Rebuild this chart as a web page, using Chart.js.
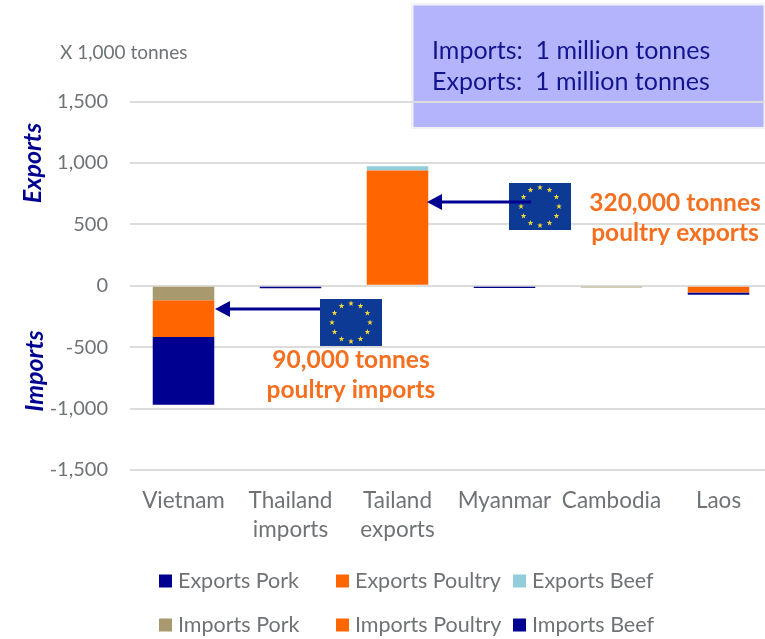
<!DOCTYPE html>
<html><head><meta charset="utf-8">
<style>html,body{margin:0;padding:0;background:#fff;width:765px;height:639px;overflow:hidden}canvas{display:block}</style>
<script src="https://cdn.jsdelivr.net/npm/chart.js@4"></script>
</head><body><canvas id="c" width="772" height="639" style="width:772px;height:639px"></canvas>
<script>
const categories = ["Vietnam", ["Thailand","imports"], ["Tailand","exports"], "Myanmar", "Cambodia", "Laos"];
const exportsPork    = [0, 0, 0, 0, 0, 0];
const exportsPoultry = [0, 0, 938, 0, 0, 0];
const exportsBeef    = [0, 0, 34, 0, 0, 0];
const importsPork    = [-118, 0, 0, 0, -14, 0];
const importsPoultry = [-300, 0, 0, 0, 0, -55];
const importsBeef    = [-550, -20, 0, -18, 0, -18];
const yTicks = [1500, 1000, 500, 0, -500, -1000, -1500];

const NAVY = "#000090", ORANGE = "#ff6600", SKY = "#92cddc", TAN = "#a89a6e";
const GREY = "#6f7375", FONT = "Lato";

function ds(label, data, color){ return {label, data, backgroundColor: color, borderWidth: 0, stack: "s", barPercentage: 0.575, categoryPercentage: 1}; }

function flag(ctx, x, y, w, h){
  ctx.fillStyle = "#0d3a94"; ctx.fillRect(x, y, w, h);
  const cx = x + w/2, cy = y + h/2, r = 19;
  ctx.fillStyle = "#f2d83a";
  for (let i = 0; i < 12; i++){
    const a = i * Math.PI / 6, sx = cx + r*Math.sin(a), sy = cy - r*Math.cos(a);
    ctx.beginPath();
    for (let k = 0; k < 10; k++){
      const rr = k % 2 ? 1.2 : 3, b = k * Math.PI / 5;
      ctx.lineTo(sx + rr*Math.sin(b), sy - rr*Math.cos(b));
    }
    ctx.closePath(); ctx.fill();
  }
}
function arrow(ctx, x0, x1, y){
  ctx.strokeStyle = NAVY; ctx.fillStyle = NAVY; ctx.lineWidth = 3;
  ctx.beginPath(); ctx.moveTo(x0, y); ctx.lineTo(x1 + 12, y); ctx.stroke();
  ctx.beginPath(); ctx.moveTo(x1, y); ctx.lineTo(x1 + 15, y - 8); ctx.lineTo(x1 + 15, y + 8); ctx.closePath(); ctx.fill();
}
function text(ctx, s, x, y, font, color, align){
  ctx.font = font; ctx.fillStyle = color; ctx.textAlign = align || "left"; ctx.textBaseline = "middle";
  ctx.fillText(s, x, y);
}

const decor = {
  id: "decor",
  beforeDraw(chart){
    const ctx = chart.ctx; ctx.save();
    ctx.fillStyle = "#f1f1f6"; ctx.fillRect(411, 3, 354, 126);
    ctx.fillStyle = "#b4b4fd"; ctx.fillRect(413.5, 5.5, 350, 121.5);
    text(ctx, "Imports:  1 million tonnes", 432, 51, "25px " + FONT, "#14148c");
    text(ctx, "Exports:  1 million tonnes", 432, 82, "25px " + FONT, "#14148c");
    text(ctx, "X 1,000 tonnes", 60, 53, "19px " + FONT, GREY);
    ctx.restore();
  },
  afterDraw(chart){
    const ctx = chart.ctx; ctx.save();
    flag(ctx, 509, 183, 62, 47);
    arrow(ctx, 531, 427, 202);
    flag(ctx, 320, 299, 62, 47);
    arrow(ctx, 320, 215, 309);
    const bold = "bold 24.5px " + FONT;
    text(ctx, "320,000 tonnes", 675, 203, bold, "#f47020", "center");
    text(ctx, "poultry exports", 675, 233, bold, "#f47020", "center");
    text(ctx, "90,000 tonnes", 351, 360, bold, "#f47020", "center");
    text(ctx, "poultry imports", 351, 390, bold, "#f47020", "center");
    for (const [s, x, y] of [["Exports", 33, 163], ["Imports", 35, 371]]){
      ctx.save(); ctx.translate(x, y); ctx.rotate(-Math.PI/2);
      text(ctx, s, 0, 0, "italic bold 25px " + FONT, NAVY, "center");
      ctx.restore();
    }
    // legend, read from the datasets
    const cols = [159, 336, 513], rows = [581, 625];
    chart.data.datasets.forEach((d, i) => {
      const x = cols[i % 3], y = rows[Math.floor(i / 3)];
      ctx.fillStyle = d.backgroundColor; ctx.fillRect(x, y - 6.5, 13, 13);
      text(ctx, d.label, x + 19, y, "21.5px " + FONT, GREY);
    });
    ctx.restore();
  }
};

new Chart(document.getElementById("c"), {
  type: "bar",
  data: { labels: categories, datasets: [
    ds("Exports Pork", exportsPork, NAVY),
    ds("Exports Poultry", exportsPoultry, ORANGE),
    ds("Exports Beef", exportsBeef, SKY),
    ds("Imports Pork", importsPork, TAN),
    ds("Imports Poultry", importsPoultry, ORANGE),
    ds("Imports Beef", importsBeef, NAVY)
  ]},
  options: {
    responsive: false, animation: false,
    layout: { padding: { top: 101.5, left: 0, right: 0, bottom: 0 } },
    plugins: { legend: { display: false }, tooltip: { enabled: false }, title: { display: false } },
    scales: {
      x: {
        stacked: true,
        grid: { display: false }, border: { display: false },
        afterFit(s){ s.height = 169; },
        ticks: { autoSkip: false, maxRotation: 0, minRotation: 0, padding: 8, color: GREY,
                 font: { family: FONT, size: 22.5, lineHeight: 1.3 } }
      },
      y: {
        stacked: true, min: -1500, max: 1500,
        afterFit(s){ s.width = 130; },
        afterBuildTicks(s){ s.ticks = yTicks.map(v => ({ value: v })); },
        grid: { color: "#dcdcdc", lineWidth: 2, drawTicks: false }, border: { display: false },
        ticks: { padding: 22, color: GREY, font: { family: FONT, size: 20 },
                 callback: v => v.toLocaleString("en-US") }
      }
    }
  },
  plugins: [decor]
});
</script></body></html>
